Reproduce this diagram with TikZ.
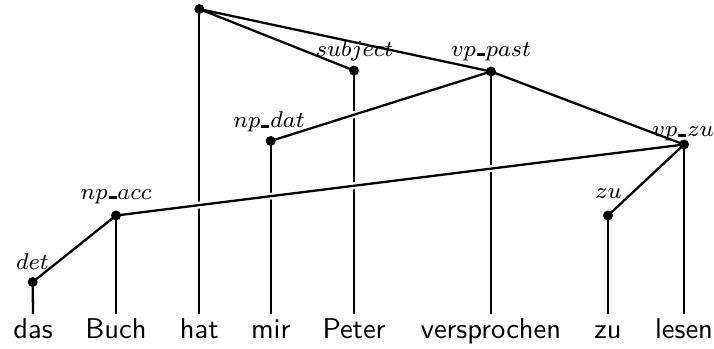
\documentclass[tikz,border=0pt]{standalone}
\usetikzlibrary{positioning}
\newcommand{\ubar}{\kern0.04em\rule{0.33em}{0.12em}\kern0.04em}
\begin{document}
\begin{tikzpicture}[x=0.35pt,y=-0.35pt,line width=0.8pt,
  word/.style={font=\sffamily,anchor=north,inner sep=0pt,text height=8pt,text depth=2pt},
  lbl/.style={font=\fontsize{8.5}{10}\selectfont,anchor=base,inner sep=0pt},
  cross/.style={preaction={draw=white,line width=2.4pt,shorten <=3pt,shorten >=3pt}}]
\useasboundingbox (0,0) rectangle (714,348);
% words
\node[word] (das) at (33,314) {das};
\node[word] (Buch) at (116,314) {Buch};
\node[word] (hat) at (199.3,314) {hat};
\node[word] (mir) at (270.7,314) {mir};
\node[word] (Peter) at (354,314) {Peter};
\node[word] (versprochen) at (491,314) {versprochen};
\node[word] (zuw) at (608,314) {zu};
\node[word] (lesen) at (684,314) {lesen};
% tree
\coordinate (root) at (199.3,9);
\coordinate (subject) at (354,70.5);
\coordinate (vppast) at (491,71.5);
\coordinate (npdat) at (270.7,141);
\coordinate (vpzu) at (684,144.5);
\coordinate (npacc) at (116,215.5);
\coordinate (det) at (32.7,282);
\coordinate (zu) at (608,215.5);
% labels
\node[lbl] (subjectlbl) at (354.5,56) {$subject$};
\node[lbl] (vppastlbl) at (491,56) {$vp\ubar past$};
\node[lbl] (npdatlbl) at (269,127.7) {$np\ubar dat$};
\node[lbl] (vpzulbl) at (683,136.7) {$vp\ubar zu$};
\node[lbl] (npacclbl) at (116,199.3) {$np\ubar acc$};
\node[lbl] (detlbl) at (32.5,269) {$det$};
\node[lbl] (zulbl) at (608.5,198.3) {$zu$};
% edges
\draw (root) -- (hat.north);
\draw (root) -- (subject);
\draw (root) -- (vppast);
\draw (subject) -- (Peter.north);
\draw (vppast) -- (versprochen.north);
\draw (vppast) -- (vpzu);
\draw (npdat) -- (mir.north);
\draw (vpzu) -- (zu);
\draw (vpzu) -- (lesen.north);
\draw (zu) -- (zuw.north);
\draw (npacc) -- (Buch.north);
\draw (npacc) -- (det);
\draw (det) -- (das.north);
\draw[cross] (vppast) -- (npdat);
\draw[cross] (npacc) -- (vpzu);
% dots
\foreach \n in {root,subject,vppast,npdat,vpzu,npacc,det,zu}
  \fill (\n) circle (1.75pt);
\end{tikzpicture}
\end{document}
